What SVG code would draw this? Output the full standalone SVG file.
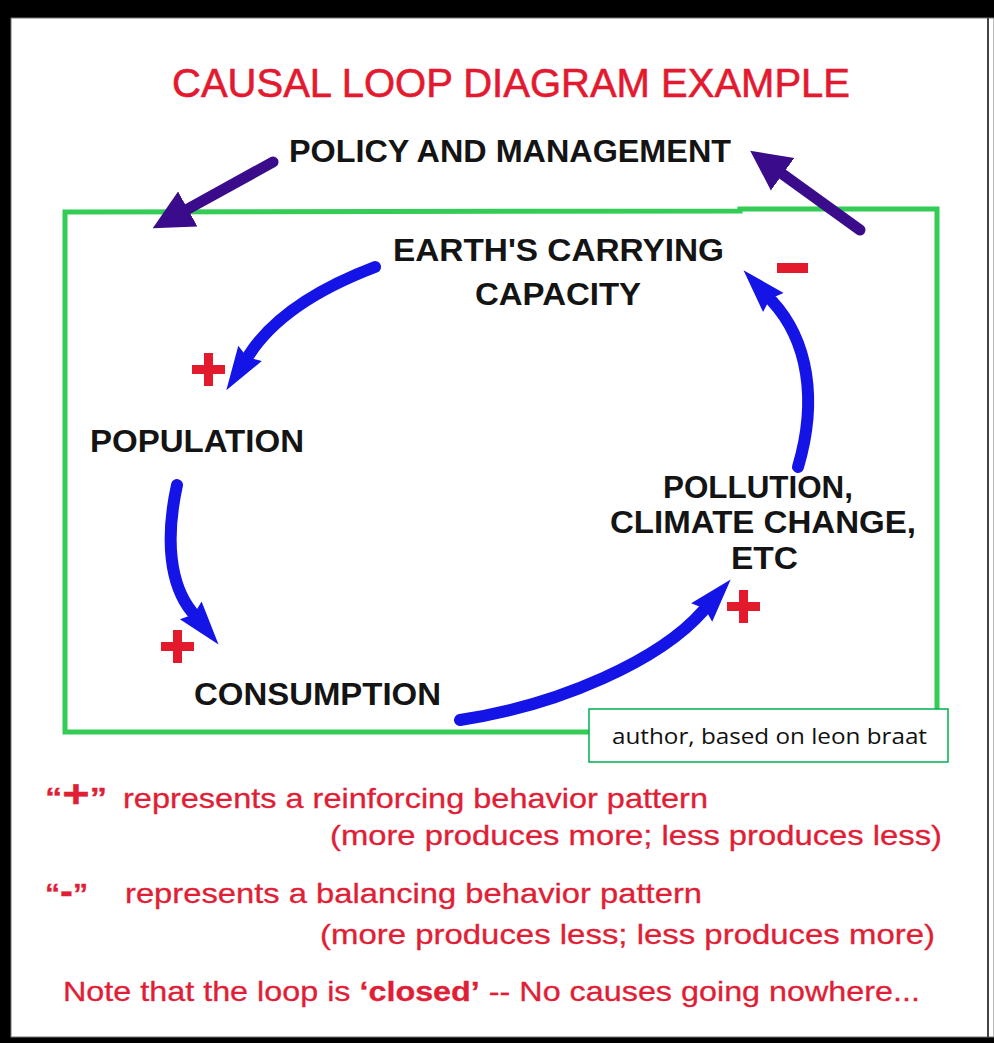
<svg xmlns="http://www.w3.org/2000/svg" width="994" height="1043" viewBox="0 0 994 1043">
  <style>
    .title { font-family: "Liberation Sans", Arial, sans-serif; font-size: 41px; fill: #e3192f; stroke: #e3192f; stroke-width: 0.6; }
    .node { font-family: "Liberation Sans", Arial, sans-serif; font-size: 31px; font-weight: bold; fill: #141414; }
    .legend { font-family: "Liberation Sans", Arial, sans-serif; font-size: 28px; fill: #e01e36; stroke: #e01e36; stroke-width: 0.3; }
    .credit { font-family: "Open Sans", "Liberation Sans", sans-serif; font-size: 22px; fill: #111; }
    .sign { fill: #e31a2c; }
    .loop { fill: none; stroke: #1414e6; stroke-width: 12; stroke-linecap: round; }
    .mgmt { fill: none; stroke: #3a0c8c; stroke-width: 11; stroke-linecap: round; }
  </style>
  <defs>
    <marker id="blueHead" markerUnits="userSpaceOnUse" markerWidth="46" markerHeight="34" viewBox="0 -17 46 34" refX="2" refY="0" orient="auto">
      <path d="M0,-14 L44,0 L0,14 L5,0 Z" fill="#1414e6"/>
    </marker>
    <marker id="purpleHead" markerUnits="userSpaceOnUse" markerWidth="42" markerHeight="44" viewBox="0 -22 42 44" refX="2" refY="0" orient="auto">
      <path d="M0,-20 L40,0 L0,20 Z" fill="#3a0c8c"/>
    </marker>
  </defs>

  <!-- frame -->
  <rect x="0" y="0" width="994" height="1043" fill="#000"/>
  <rect x="11" y="18" width="983" height="1019" fill="#fff" stroke="#777" stroke-width="1"/>
  <line x1="988" y1="18" x2="988" y2="1037" stroke="#444" stroke-width="2"/>

  <!-- system boundary -->
  <path id="boundary" d="M65,212 L740,211 L740,209 L937,209 L937,732 L65,732 Z" fill="none" stroke="#33cc55" stroke-width="5"/>

  <g id="title">
    <text class="title" x="172" y="97" textLength="678" lengthAdjust="spacingAndGlyphs">CAUSAL LOOP DIAGRAM EXAMPLE</text>
  </g>

  <g id="policy">
    <text class="node" x="289" y="162" textLength="442" lengthAdjust="spacingAndGlyphs">POLICY AND MANAGEMENT</text>
  </g>
  <g id="earth">
    <text class="node" x="393" y="261" textLength="331" lengthAdjust="spacingAndGlyphs">EARTH'S CARRYING</text>
    <text class="node" x="475" y="305" textLength="166" lengthAdjust="spacingAndGlyphs">CAPACITY</text>
  </g>
  <g id="population">
    <text class="node" x="90" y="452" textLength="214" lengthAdjust="spacingAndGlyphs">POPULATION</text>
  </g>
  <g id="pollution">
    <text class="node" x="663" y="498" textLength="190" lengthAdjust="spacingAndGlyphs">POLLUTION,</text>
    <text class="node" x="610" y="533" textLength="306" lengthAdjust="spacingAndGlyphs">CLIMATE CHANGE,</text>
    <text class="node" x="731" y="569" textLength="67" lengthAdjust="spacingAndGlyphs">ETC</text>
  </g>
  <g id="consumption">
    <text class="node" x="194" y="705" textLength="247" lengthAdjust="spacingAndGlyphs">CONSUMPTION</text>
  </g>

  <g id="connectors">
    <path class="mgmt" d="M273,162 L186,210" marker-end="url(#purpleHead)"/>
    <path class="mgmt" d="M860,230 L781,173" marker-end="url(#purpleHead)"/>
    <path class="loop" d="M375,267 Q283,302 249,355" marker-end="url(#blueHead)"/>
    <path class="loop" d="M177,485 C165,540 170,585 192,612" marker-end="url(#blueHead)"/>
    <path class="loop" d="M460,720 C560,705 660,660 703,611" marker-end="url(#blueHead)"/>
    <path class="loop" d="M798,467 C818,400 808,340 772,301" marker-end="url(#blueHead)"/>
  </g>

  <g id="polarity">
    <path class="sign" d="M204,353 h9 v12 h12 v9 h-12 v12 h-9 v-12 h-12 v-9 h12 z"/>
    <path class="sign" d="M173,630 h9 v12 h12 v9 h-12 v12 h-9 v-12 h-12 v-9 h12 z"/>
    <path class="sign" d="M739,590 h9 v12 h12 v9 h-12 v12 h-9 v-12 h-12 v-9 h12 z"/>
    <rect class="sign" x="777" y="263" width="31" height="10"/>
  </g>

  <g id="credit">
    <rect x="589" y="709" width="359" height="53" fill="#fff" stroke="#00b050" stroke-width="1.5"/>
    <text class="credit" x="612" y="744" textLength="315" lengthAdjust="spacingAndGlyphs">author, based on leon braat</text>
  </g>

  <g id="legend">
    <text class="legend" x="45" y="807" font-weight="bold" textLength="62" lengthAdjust="spacingAndGlyphs">“<tspan font-size="38">+</tspan>”</text>
    <text class="legend" x="123" y="808" textLength="585" lengthAdjust="spacingAndGlyphs">represents a reinforcing behavior pattern</text>
    <text class="legend" x="330" y="845" textLength="612" lengthAdjust="spacingAndGlyphs">(more produces more; less produces less)</text>
    <text class="legend" x="45" y="903" font-weight="bold" textLength="43" lengthAdjust="spacingAndGlyphs">“<tspan font-size="36">-</tspan>”</text>
    <text class="legend" x="125" y="903" textLength="577" lengthAdjust="spacingAndGlyphs">represents a balancing behavior pattern</text>
    <text class="legend" x="320" y="944" textLength="615" lengthAdjust="spacingAndGlyphs">(more produces less; less produces more)</text>
    <text class="legend" x="63" y="1001" textLength="857" lengthAdjust="spacingAndGlyphs">Note that the loop is <tspan font-weight="bold">‘closed’</tspan> -- No causes going nowhere...</text>
  </g>
</svg>
